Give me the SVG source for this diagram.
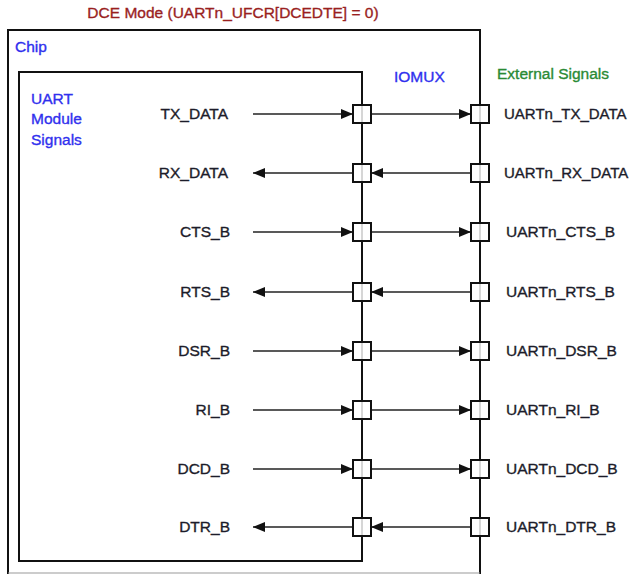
<svg xmlns="http://www.w3.org/2000/svg" width="632" height="575" viewBox="0 0 632 575">
<defs>
<marker id="ah" viewBox="0 0 12 10" refX="12" refY="5" markerWidth="12" markerHeight="10" markerUnits="userSpaceOnUse" orient="auto">
<path d="M0,0 L12,5 L0,10 Z" fill="#111"/>
</marker>
</defs>
<style>
text{font-family:"Liberation Sans",Arial,sans-serif;font-size:15.5px;stroke-width:0.35px}
.lbl{fill:#1c1c2a;stroke:#1c1c2a}
.l{text-anchor:end}
.w{font-size:15px}
.blue{fill:#3030ee;stroke:#3030ee}
.frame{fill:none;stroke:#111;stroke-width:2}
.sig{stroke:#222;stroke-width:1.6;fill:none}
.pad rect{fill:#fff;stroke:#111;stroke-width:2}
.pad line{stroke:#c8c8c8;stroke-width:1.5}
</style>
<rect width="632" height="575" fill="#fff"/>
<text x="233" y="18" text-anchor="middle" fill="#9a1f1f" stroke="#9a1f1f">DCE Mode (UARTn_UFCR[DCEDTE] = 0)</text>
<g id="chip">
<path class="frame" d="M8,574 V30 H480 V574"/>
<line x1="8" y1="573" x2="480" y2="573" stroke="#999" stroke-width="1"/>
<text x="15" y="52" class="blue">Chip</text>
</g>
<g id="uart">
<path class="frame" d="M19,72 H362 V561 H19 Z"/>
<text x="31" y="104" class="blue">UART</text>
<text x="31" y="124" class="blue">Module</text>
<text x="31" y="145" class="blue">Signals</text>
</g>
<g id="iomux"><text x="394" y="82" class="blue">IOMUX</text></g>
<g id="external"><text x="497" y="79" fill="#2a8a35" stroke="#2a8a35">External Signals</text></g>
<g id="connectors">
<line class="sig" x1="253" y1="114" x2="353" y2="114" marker-end="url(#ah)"/>
<line class="sig" x1="371" y1="114" x2="471" y2="114" marker-end="url(#ah)"/>
<line class="sig" x1="353" y1="173" x2="253" y2="173" marker-end="url(#ah)"/>
<line class="sig" x1="471" y1="173" x2="371" y2="173" marker-end="url(#ah)"/>
<line class="sig" x1="253" y1="232" x2="353" y2="232" marker-end="url(#ah)"/>
<line class="sig" x1="371" y1="232" x2="471" y2="232" marker-end="url(#ah)"/>
<line class="sig" x1="353" y1="292" x2="253" y2="292" marker-end="url(#ah)"/>
<line class="sig" x1="471" y1="292" x2="371" y2="292" marker-end="url(#ah)"/>
<line class="sig" x1="253" y1="351" x2="353" y2="351" marker-end="url(#ah)"/>
<line class="sig" x1="371" y1="351" x2="471" y2="351" marker-end="url(#ah)"/>
<line class="sig" x1="253" y1="410" x2="353" y2="410" marker-end="url(#ah)"/>
<line class="sig" x1="371" y1="410" x2="471" y2="410" marker-end="url(#ah)"/>
<line class="sig" x1="253" y1="469" x2="353" y2="469" marker-end="url(#ah)"/>
<line class="sig" x1="371" y1="469" x2="471" y2="469" marker-end="url(#ah)"/>
<line class="sig" x1="353" y1="527" x2="253" y2="527" marker-end="url(#ah)"/>
<line class="sig" x1="471" y1="527" x2="371" y2="527" marker-end="url(#ah)"/>
</g>
<g id="pads" class="pad">
<g id="pad-tx"><rect x="353" y="105" width="18" height="18"/><line x1="362" y1="106" x2="362" y2="122"/><rect x="471" y="105" width="18" height="18"/><line x1="480" y1="106" x2="480" y2="122"/></g>
<g id="pad-rx"><rect x="353" y="164" width="18" height="18"/><line x1="362" y1="165" x2="362" y2="181"/><rect x="471" y="164" width="18" height="18"/><line x1="480" y1="165" x2="480" y2="181"/></g>
<g id="pad-cts"><rect x="353" y="223" width="18" height="18"/><line x1="362" y1="224" x2="362" y2="240"/><rect x="471" y="223" width="18" height="18"/><line x1="480" y1="224" x2="480" y2="240"/></g>
<g id="pad-rts"><rect x="353" y="283" width="18" height="18"/><line x1="362" y1="284" x2="362" y2="300"/><rect x="471" y="283" width="18" height="18"/><line x1="480" y1="284" x2="480" y2="300"/></g>
<g id="pad-dsr"><rect x="353" y="342" width="18" height="18"/><line x1="362" y1="343" x2="362" y2="359"/><rect x="471" y="342" width="18" height="18"/><line x1="480" y1="343" x2="480" y2="359"/></g>
<g id="pad-ri"><rect x="353" y="401" width="18" height="18"/><line x1="362" y1="402" x2="362" y2="418"/><rect x="471" y="401" width="18" height="18"/><line x1="480" y1="402" x2="480" y2="418"/></g>
<g id="pad-dcd"><rect x="353" y="460" width="18" height="18"/><line x1="362" y1="461" x2="362" y2="477"/><rect x="471" y="460" width="18" height="18"/><line x1="480" y1="461" x2="480" y2="477"/></g>
<g id="pad-dtr"><rect x="353" y="518" width="18" height="18"/><line x1="362" y1="519" x2="362" y2="535"/><rect x="471" y="518" width="18" height="18"/><line x1="480" y1="519" x2="480" y2="535"/></g>
</g>
<g id="left-labels" class="lbl">
<text class="l" x="228" y="119">TX_DATA</text>
<text class="l" x="228" y="178">RX_DATA</text>
<text class="l" x="230" y="237">CTS_B</text>
<text class="l" x="230" y="297">RTS_B</text>
<text class="l" x="230" y="356">DSR_B</text>
<text class="l" x="230" y="415">RI_B</text>
<text class="l" x="230" y="474">DCD_B</text>
<text class="l" x="230" y="532">DTR_B</text>
</g>
<g id="right-labels" class="lbl">
<text class="w" x="504" y="119">UARTn_TX_DATA</text>
<text class="w" x="504" y="178">UARTn_RX_DATA</text>
<text x="506" y="237">UARTn_CTS_B</text>
<text x="506" y="297">UARTn_RTS_B</text>
<text x="506" y="356">UARTn_DSR_B</text>
<text x="506" y="415">UARTn_RI_B</text>
<text x="506" y="474">UARTn_DCD_B</text>
<text x="506" y="532">UARTn_DTR_B</text>
</g>
</svg>
